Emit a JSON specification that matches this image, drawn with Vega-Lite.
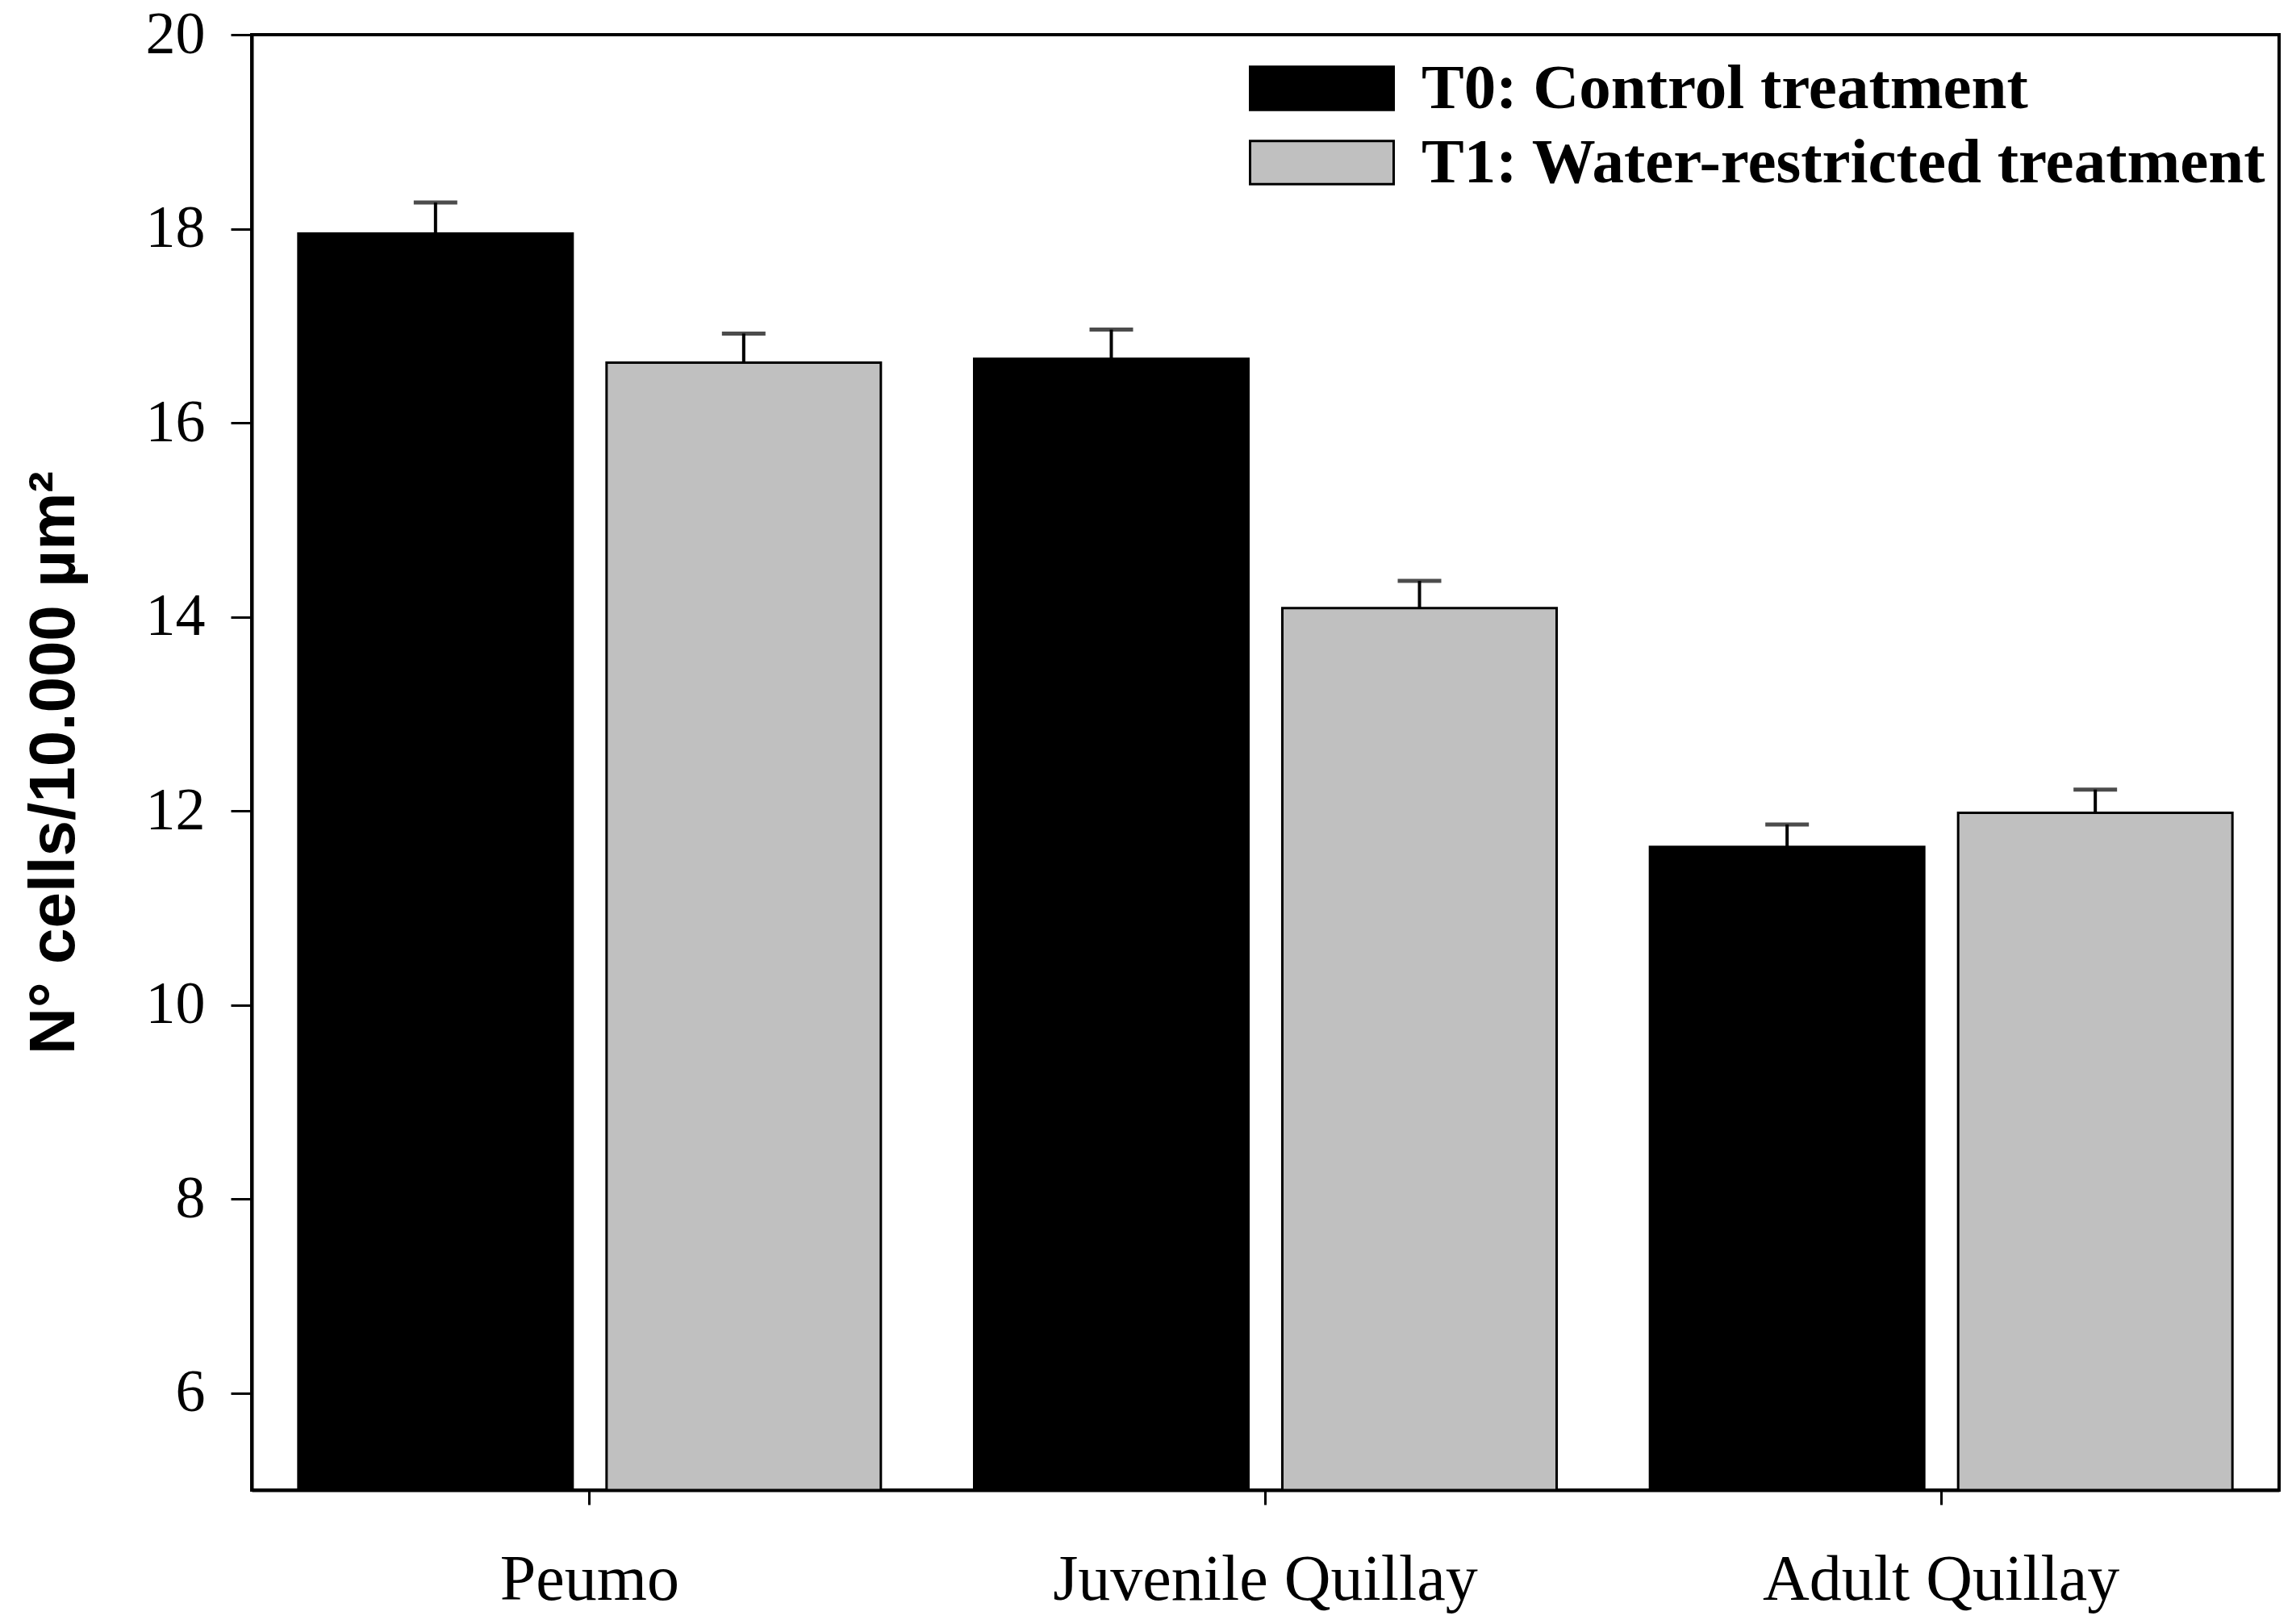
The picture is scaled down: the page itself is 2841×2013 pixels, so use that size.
{
  "$schema": "https://vega.github.io/schema/vega-lite/v6.json",
  "width": 2513,
  "height": 1804,
  "autosize": {"type": "none"},
  "padding": {"left": 312, "top": 43, "right": 16, "bottom": 166},
  "background": "white",
  "config": {
    "view": {"stroke": "black", "strokeWidth": 4},
    "axis": {"domainColor": "black", "domainWidth": 4, "tickColor": "black", "tickWidth": 3, "grid": false, "labelColor": "black", "titleColor": "black"},
    "legend": {
      "orient": "none", "legendX": 1287, "legendY": 27, "padding": 0,
      "symbolType": "M-3,-0.9H3V0.9H-3Z", "symbolSize": 3520,
      "symbolStrokeColor": "black", "symbolStrokeWidth": 3, "symbolOpacity": 1,
      "labelFont": "Liberation Serif", "labelFontSize": 79, "labelFontWeight": "bold", "labelColor": "black",
      "labelOffset": 84, "rowPadding": 12, "labelLimit": 0
    }
  },
  "data": {"values": [
    {"site": "Peumo", "treatment": "T0: Control treatment", "mean": 17.95, "upper": 18.27},
    {"site": "Peumo", "treatment": "T1: Water-restricted treatment", "mean": 16.62, "upper": 16.92},
    {"site": "Juvenile Quillay", "treatment": "T0: Control treatment", "mean": 16.66, "upper": 16.96},
    {"site": "Juvenile Quillay", "treatment": "T1: Water-restricted treatment", "mean": 14.09, "upper": 14.37},
    {"site": "Adult Quillay", "treatment": "T0: Control treatment", "mean": 11.63, "upper": 11.86},
    {"site": "Adult Quillay", "treatment": "T1: Water-restricted treatment", "mean": 11.98, "upper": 12.22}
  ]},
  "encoding": {
    "x": {
      "field": "site", "type": "nominal",
      "sort": ["Peumo", "Juvenile Quillay", "Adult Quillay"],
      "scale": {"paddingInner": 0, "paddingOuter": 0},
      "axis": {"title": null, "labelAngle": 0, "labelFont": "Liberation Serif", "labelFontSize": 80, "tickSize": 18, "labelPadding": 54, "labelLimit": 0}
    },
    "xOffset": {
      "field": "treatment", "type": "nominal",
      "sort": ["T0: Control treatment", "T1: Water-restricted treatment"],
      "scale": {"paddingInner": 0.11, "paddingOuter": 0.1514}
    }
  },
  "layer": [
    {
      "mark": {"type": "bar", "stroke": "black", "strokeWidth": 3},
      "encoding": {
        "y": {
          "field": "mean", "type": "quantitative",
          "scale": {"domain": [5, 20], "nice": false, "zero": false},
          "axis": {
            "values": [6, 8, 10, 12, 14, 16, 18, 20],
            "format": "d",
            "title": "N° cells/10.000 µm²",
            "titleFont": "Liberation Sans", "titleFontSize": 80, "titleFontWeight": "bold", "titlePadding": 72,
            "labelFont": "Liberation Serif", "labelFontSize": 74, "tickSize": 26, "labelPadding": 32
          }
        },
        "y2": {"datum": 5},
        "color": {
          "field": "treatment", "type": "nominal",
          "scale": {"domain": ["T0: Control treatment", "T1: Water-restricted treatment"], "range": ["#000000", "#c0c0c0"]},
          "legend": {"title": null}
        }
      }
    },
    {
      "mark": {"type": "rule", "strokeWidth": 4, "color": "black"},
      "encoding": {
        "y": {"field": "mean", "type": "quantitative"},
        "y2": {"field": "upper"}
      }
    },
    {
      "mark": {"type": "tick", "size": 54, "thickness": 5, "color": "black", "orient": "horizontal"},
      "encoding": {
        "y": {"field": "upper", "type": "quantitative"}
      }
    }
  ]
}
